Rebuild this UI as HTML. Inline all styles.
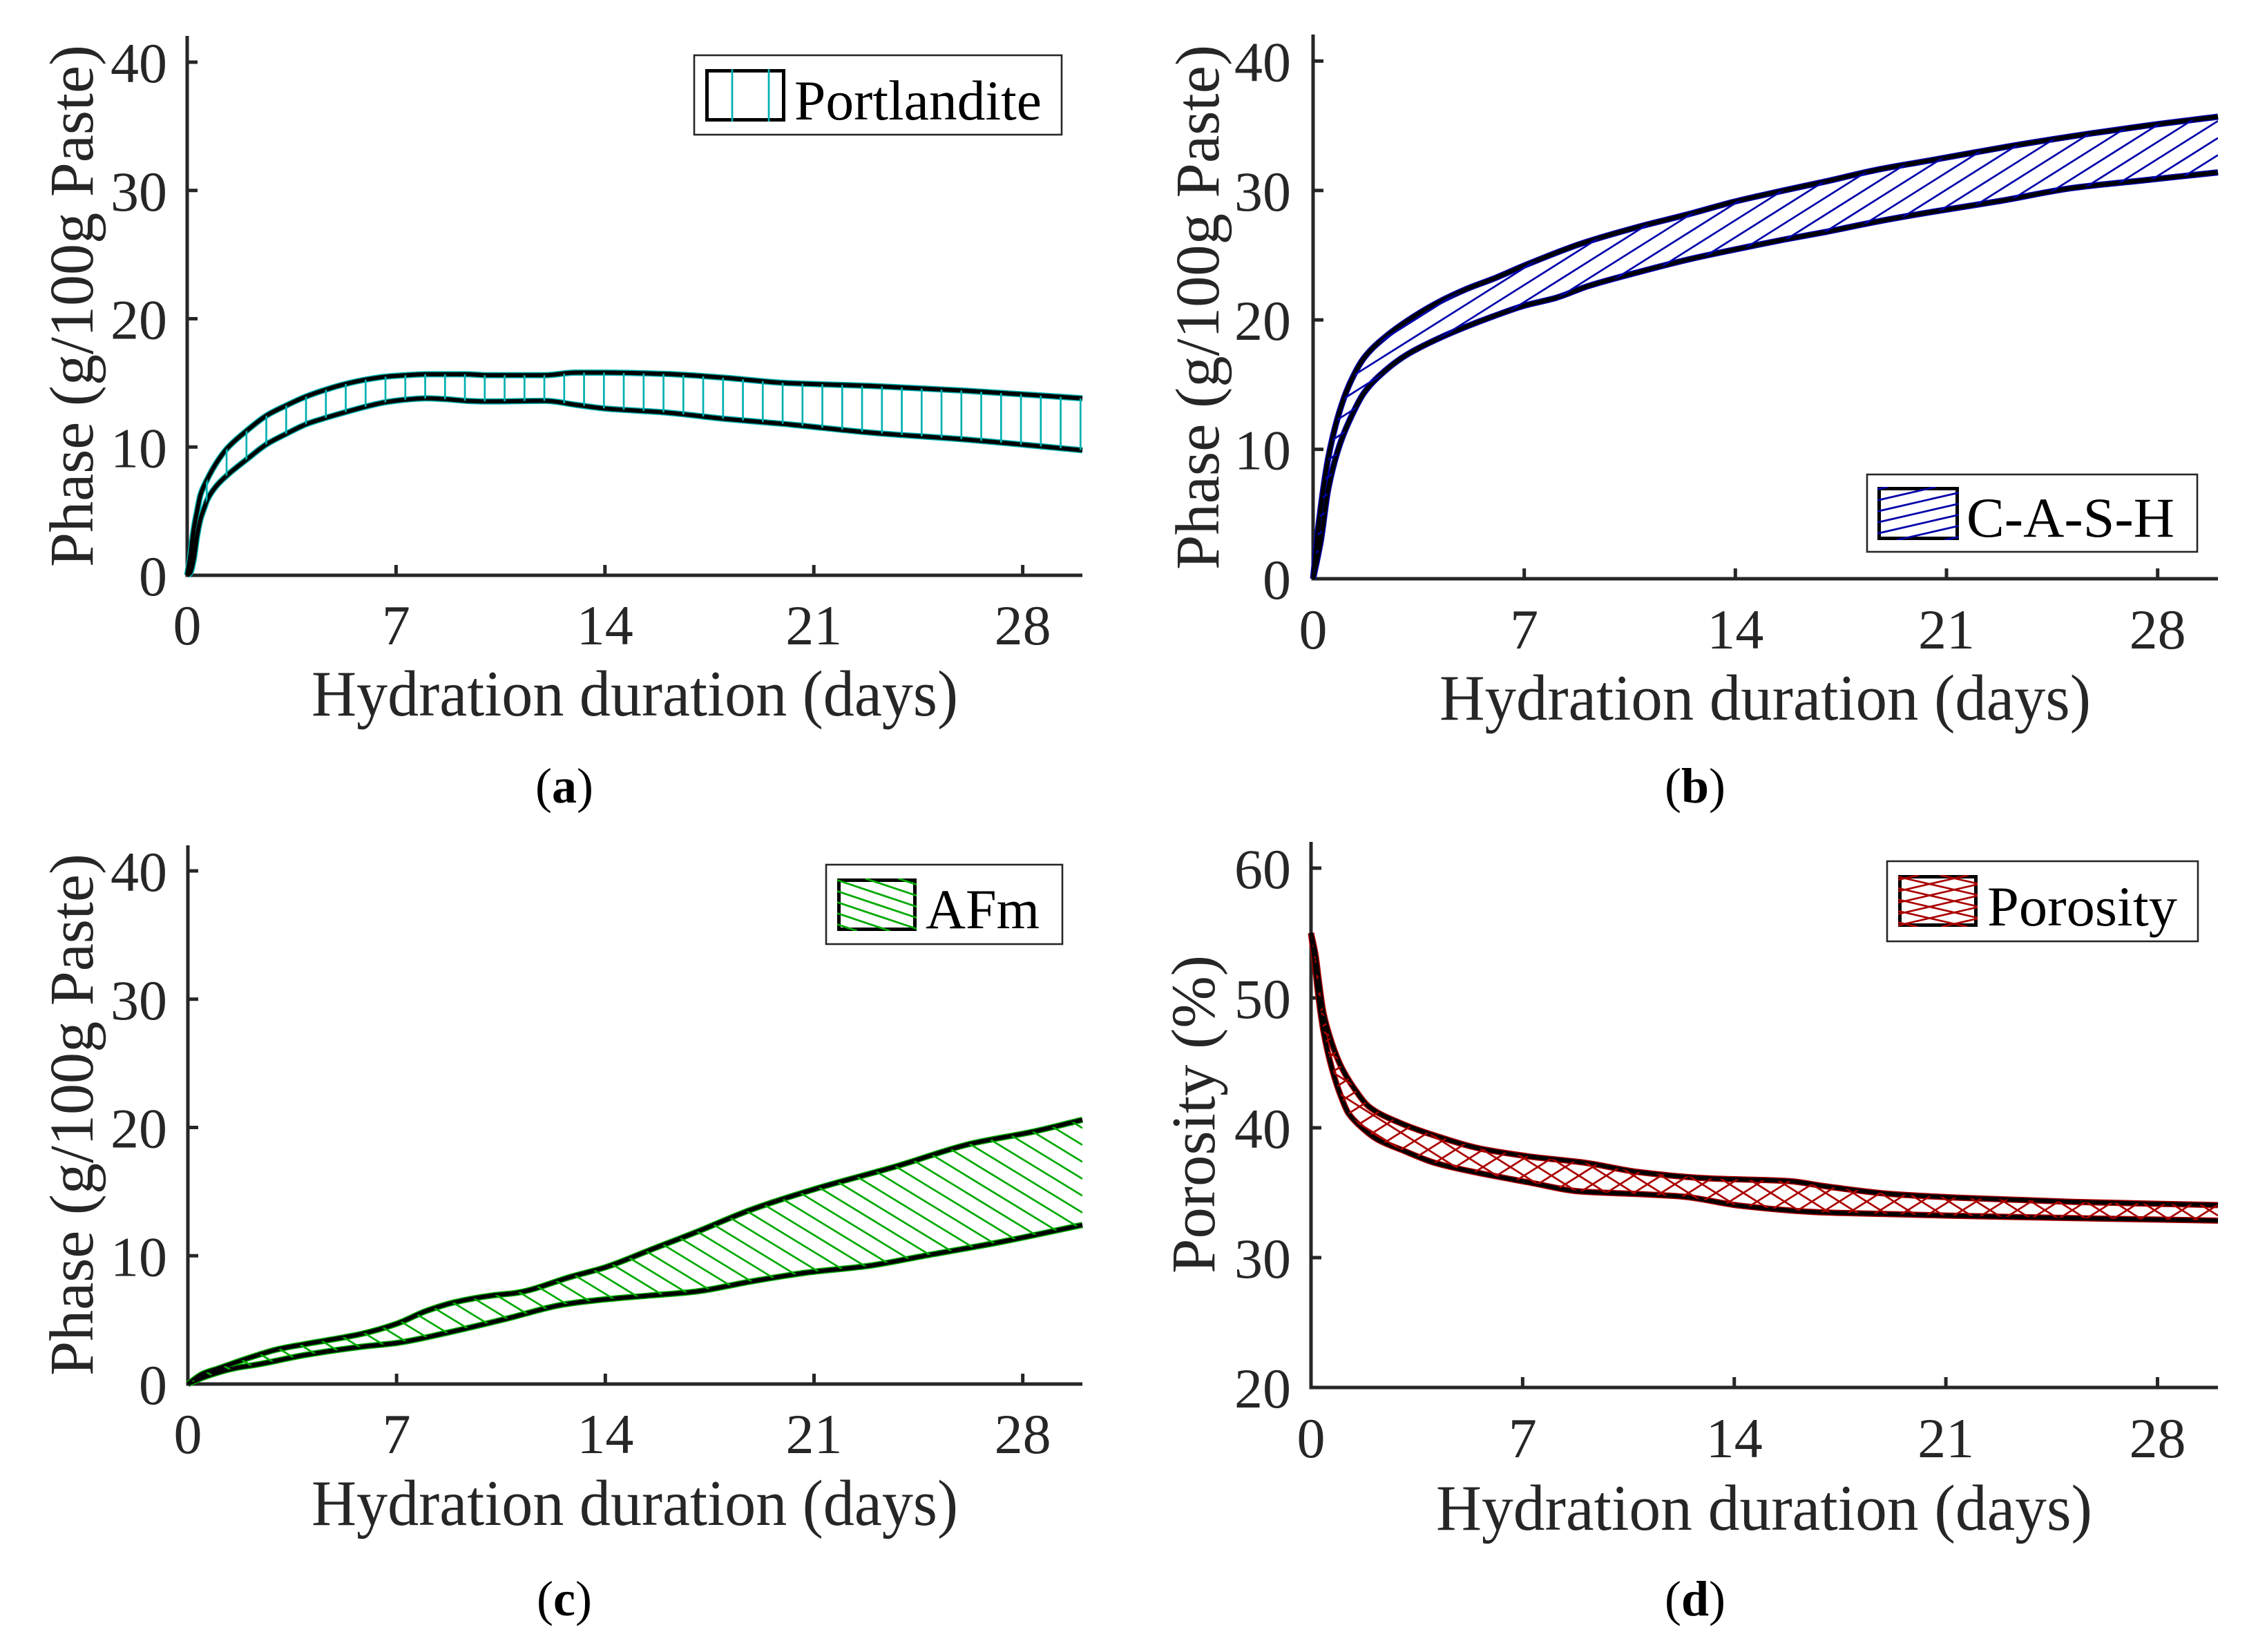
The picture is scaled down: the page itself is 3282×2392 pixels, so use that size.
<!DOCTYPE html>
<html lang="en">
<head>
<meta charset="utf-8">
<title>Hydration phase evolution charts</title>
<style>
html,body{margin:0;padding:0;background:#fff;width:3282px;height:2392px;overflow:hidden;}
svg{display:block;}
text{font-family:"Liberation Serif","Times New Roman",serif;}
.tick-label{font-size:82px;fill:#262626;}
.axis-label{fill:#262626;}
.legend-text{font-size:82px;fill:#000;}
.caption{font-size:72px;fill:#000;text-anchor:middle;}
.caption tspan{font-weight:bold;}
</style>
</head>
<body>
<svg id="figure" xmlns="http://www.w3.org/2000/svg" width="3282" height="2392" viewBox="0 0 3282 2392">
  <rect x="0" y="0" width="3282" height="2392" fill="#fff"/>

  <g id="panel-a"></g>
  <g id="panel-b"></g>
  <g id="panel-c"></g>
  <g id="panel-d"></g>

  <g>
    <text class="axis-label" x="451" y="1036" font-size="94" textLength="936" lengthAdjust="spacingAndGlyphs">Hydration duration (days)</text>
    <text class="axis-label" x="2084" y="1042" font-size="94" textLength="943" lengthAdjust="spacingAndGlyphs">Hydration duration (days)</text>
    <text class="axis-label" x="451" y="2208" font-size="94" textLength="936" lengthAdjust="spacingAndGlyphs">Hydration duration (days)</text>
    <text class="axis-label" x="2079" y="2215" font-size="94" textLength="950" lengthAdjust="spacingAndGlyphs">Hydration duration (days)</text>
    <text class="axis-label" transform="translate(134 821) rotate(-90)" font-size="90" textLength="756" lengthAdjust="spacingAndGlyphs">Phase (g/100g Paste)</text>
    <text class="axis-label" transform="translate(1764 825) rotate(-90)" font-size="90" textLength="760" lengthAdjust="spacingAndGlyphs">Phase (g/100g Paste)</text>
    <text class="axis-label" transform="translate(134 1992) rotate(-90)" font-size="90" textLength="756" lengthAdjust="spacingAndGlyphs">Phase (g/100g Paste)</text>
    <text class="axis-label" transform="translate(1758 1844) rotate(-90)" font-size="90" textLength="461" lengthAdjust="spacingAndGlyphs">Porosity (%)</text>
  </g>

  <g>
    <rect x="1005" y="80" width="532" height="115" fill="#fff" stroke="#262626" stroke-width="2.6"/>
    <g id="swatch-a"></g>
    <text class="legend-text" x="1150" y="173" textLength="358" lengthAdjust="spacingAndGlyphs">Portlandite</text>
  </g>
  <g>
    <rect x="2703" y="687" width="478" height="112" fill="#fff" stroke="#262626" stroke-width="2.6"/>
    <g id="swatch-b"></g>
    <text class="legend-text" x="2847" y="777" textLength="301" lengthAdjust="spacingAndGlyphs">C-A-S-H</text>
  </g>
  <g>
    <rect x="1196" y="1252" width="342" height="115" fill="#fff" stroke="#262626" stroke-width="2.6"/>
    <g id="swatch-c"></g>
    <text class="legend-text" x="1340" y="1344" textLength="165" lengthAdjust="spacingAndGlyphs">AFm</text>
  </g>
  <g>
    <rect x="2732" y="1247" width="450" height="116" fill="#fff" stroke="#262626" stroke-width="2.6"/>
    <g id="swatch-d"></g>
    <text class="legend-text" x="2877" y="1340" textLength="275" lengthAdjust="spacingAndGlyphs">Porosity</text>
  </g>

  <text class="caption" x="817" y="1162">(<tspan>a</tspan>)</text>
  <text class="caption" x="2454" y="1162">(<tspan>b</tspan>)</text>
  <text class="caption" x="817" y="2339">(<tspan>c</tspan>)</text>
  <text class="caption" x="2454" y="2339">(<tspan>d</tspan>)</text>
</svg>

<script>
// ---------- chart data ----------
const xTickValues = [0, 7, 14, 21, 28];
const phaseTickValues = [0, 10, 20, 30, 40];
const porosityTickValues = [20, 30, 40, 50, 60];

const portlanditeUpperDays = [0, 0.1, 0.22, 0.33, 0.45, 0.665, 0.99, 1.34, 2.01, 2.67, 3.33, 4.01, 4.68, 5.33, 6, 6.67, 7.35, 8, 9.34, 10, 12, 13, 14, 16, 18, 20, 23, 26, 30];
const portlanditeUpper = [0, 1.44, 3.6, 5, 6.3, 7.45, 8.8, 9.9, 11.3, 12.47, 13.25, 13.96, 14.5, 14.93, 15.26, 15.49, 15.6, 15.67, 15.67, 15.6, 15.6, 15.8, 15.8, 15.7, 15.4, 15, 14.75, 14.4, 13.8];
const portlanditeLowerDays = [0, 0.1, 0.22, 0.33, 0.45, 0.565, 0.68, 0.99, 1.34, 2.01, 2.67, 3.33, 4.01, 4.68, 5.33, 6, 6.67, 7.35, 8, 8.67, 9.34, 10, 12, 13, 14, 16, 18, 20, 23, 26, 30];
const portlanditeLower = [0, 0.18, 1.26, 3.05, 4.4, 5.2, 5.92, 7, 7.8, 9.06, 10.23, 11.04, 11.8, 12.3, 12.74, 13.16, 13.5, 13.7, 13.8, 13.73, 13.6, 13.55, 13.6, 13.3, 13, 12.7, 12.2, 11.8, 11.1, 10.6, 9.75];

const cashUpperDays = [0, 0.2, 0.5, 0.86, 1.2, 1.7, 2.4, 3.1, 4.1, 5.1, 6, 7, 8.9, 10.8, 12.5, 13.9, 15.6, 17, 18.7, 20.4, 22.8, 25.2, 27.6, 30];
const cashUpper = [0, 4.5, 9.3, 12.8, 15, 17.1, 18.7, 19.9, 21.3, 22.4, 23.2, 24.2, 25.9, 27.2, 28.2, 29.1, 30, 30.7, 31.6, 32.3, 33.3, 34.2, 35, 35.7];
const cashLowerDays = [0, 0.26, 0.5, 0.86, 1.2, 1.7, 2.4, 3.1, 4.1, 5.1, 6, 7, 8.05, 9.1, 10.8, 12.5, 13.9, 15.6, 17, 18.7, 20.4, 22.8, 25.2, 27.6, 30];
const cashLower = [0, 3, 6.9, 10.2, 12.2, 14.4, 16.1, 17.3, 18.5, 19.5, 20.3, 21.1, 21.7, 22.6, 23.7, 24.7, 25.4, 26.2, 26.8, 27.6, 28.3, 29.2, 30.2, 30.8, 31.4];

const afmUpperDays = [0, 0.5, 1, 2, 3, 3.9, 5.8, 7, 8, 8.9, 10.2, 11, 12.9, 14, 15.5, 17, 18.9, 21.1, 23.8, 26.2, 28.4, 30];
const afmUpper = [0, 0.8, 1.2, 2, 2.7, 3.1, 3.9, 4.7, 5.7, 6.35, 6.9, 7.1, 8.4, 9.1, 10.45, 11.8, 13.6, 15.25, 17, 18.7, 19.7, 20.6];
const afmLowerDays = [0, 0.5, 1.5, 2.4, 3.9, 5.8, 7, 8.7, 10.7, 12.6, 14, 15.5, 17, 18.9, 20.8, 22.8, 24.7, 27.1, 30];
const afmLower = [0, 0.5, 1.2, 1.55, 2.25, 2.9, 3.2, 4, 5.1, 6.2, 6.6, 6.9, 7.2, 8, 8.7, 9.2, 10, 11, 12.4];

const porosityUpperDays = [0, 0.15, 0.26, 0.4, 0.61, 0.98, 1.44, 1.93, 2.92, 4.1, 5.6, 7.2, 9.1, 10.8, 13.2, 15.8, 17, 19.2, 21.6, 25.2, 30];
const porosityUpper = [55, 53.3, 51.3, 49, 47.1, 44.8, 43, 41.6, 40.4, 39.4, 38.4, 37.8, 37.3, 36.6, 36.1, 35.9, 35.5, 34.9, 34.6, 34.3, 34.05];
const porosityLowerDays = [0, 0.14, 0.21, 0.4, 0.63, 0.93, 1.23, 1.55, 2.2, 3, 4.1, 5.6, 7.2, 8.9, 10.8, 12.3, 14.2, 16.8, 19.2, 22.8, 26.3, 30];
const porosityLower = [55, 52.4, 50.8, 47.6, 45.1, 42.8, 41.15, 40.3, 39.1, 38.3, 37.3, 36.5, 35.8, 35.1, 34.9, 34.7, 34, 33.5, 33.35, 33.15, 33, 32.85];

// ---------- drawing ----------
const SVG_NS = 'http://www.w3.org/2000/svg';
const AXIS_COLOR = '#262626';
const HATCH_WIDTH = 2.7;

function make(tag, attrs, parent) {
  const el = document.createElementNS(SVG_NS, tag);
  for (const k in attrs) el.setAttribute(k, attrs[k]);
  parent.appendChild(el);
  return el;
}

// Monotone cubic path through points with increasing x.
function smoothPath(pts) {
  const n = pts.length;
  const h = [], s = [], m = new Array(n).fill(0);
  for (let i = 0; i < n - 1; i++) {
    h.push(Math.max(pts[i + 1][0] - pts[i][0], 0.001));
    s.push((pts[i + 1][1] - pts[i][1]) / h[i]);
  }
  m[0] = s[0];
  m[n - 1] = s[n - 2];
  for (let i = 1; i < n - 1; i++) {
    if (s[i - 1] * s[i] > 0) {
      const w1 = 2 * h[i] + h[i - 1], w2 = h[i] + 2 * h[i - 1];
      m[i] = (w1 + w2) / (w1 / s[i - 1] + w2 / s[i]);
    }
  }
  let d = 'M' + pts[0][0].toFixed(1) + ' ' + pts[0][1].toFixed(1);
  for (let i = 0; i < n - 1; i++) {
    d += ' C' + (pts[i][0] + h[i] / 3).toFixed(1) + ' ' + (pts[i][1] + m[i] * h[i] / 3).toFixed(1) +
         ' ' + (pts[i + 1][0] - h[i] / 3).toFixed(1) + ' ' + (pts[i + 1][1] - m[i + 1] * h[i] / 3).toFixed(1) +
         ' ' + pts[i + 1][0].toFixed(1) + ' ' + pts[i + 1][1].toFixed(1);
  }
  return d;
}

function hatchFamily(parent, clipId, color, x1, x2, y1, y2, slope, anchorX, anchorY, spacing, width) {
  // Lines of the form y = anchorY + slope*(x-anchorX) + k*spacing, trimmed to a box and clipped to a region.
  const g = make('g', { 'clip-path': 'url(#' + clipId + ')' }, parent);
  
  
  const w = x2 - x1;
  const base = anchorY + slope * (x1 - anchorX);
  const lowY = Math.min(y1, y1 - slope * w);
  const highY = Math.max(y2, y2 - slope * w);
  const kStart = Math.floor((lowY - base) / spacing) - 1;
  const kEnd = Math.ceil((highY - base) / spacing) + 1;
  for (let k = kStart; k <= kEnd; k++) {
    const a = base + k * spacing;
    const ta = (y1 - a) / slope, tb = (y2 - a) / slope;
    const t0 = Math.max(0, Math.min(ta, tb));
    const t1 = Math.min(w, Math.max(ta, tb));
    if (t0 >= t1) continue;
    const line = make('line', {
      x1: x1 + t0, y1: a + slope * t0, x2: x1 + t1, y2: a + slope * t1,
      stroke: color, 'stroke-width': width
    }, g);
    
    
  }
}

function verticalHatch(parent, clipId, color, startX, endX, y1, y2, spacing, width) {
  const g = make('g', { 'clip-path': 'url(#' + clipId + ')' }, parent);
  
  
  for (let x = startX; x <= endX + 1; x += spacing) {
    const line = make('line', { x1: x, y1: y1, x2: x, y2: y2, stroke: color, 'stroke-width': width }, g);
    
    
  }
}

function drawPanel(cfg) {
  const root = document.getElementById(cfg.id);
  const sx = d => cfg.x0 + (d / 30) * (cfg.x1 - cfg.x0);
  const sy = v => cfg.yLow + (v - cfg.vLow) * (cfg.yHigh - cfg.yLow) / (cfg.vHigh - cfg.vLow);

  // axes
  const yAxis = make('line', { x1: cfg.x0, y1: cfg.yTop, x2: cfg.x0, y2: cfg.yLow + 2.5, stroke: AXIS_COLOR, 'stroke-width': 5 }, root);
  
  
  const xAxis = make('line', { x1: cfg.x0, y1: cfg.yLow, x2: cfg.x1, y2: cfg.yLow, stroke: AXIS_COLOR, 'stroke-width': 5 }, root);
  
  

  xTickValues.forEach(t => {
    const tick = make('line', { x1: sx(t), y1: cfg.yLow, x2: sx(t), y2: cfg.yLow - 15, stroke: AXIS_COLOR, 'stroke-width': 5 }, root);
    
    
    const label = make('text', { x: sx(t), y: cfg.xTickBase, 'text-anchor': 'middle', class: 'tick-label' }, root);
    
    
    label.textContent = t;
  });
  cfg.yTicks.forEach(t => {
    const tick = make('line', { x1: cfg.x0, y1: sy(t), x2: cfg.x0 + 15, y2: sy(t), stroke: AXIS_COLOR, 'stroke-width': 5 }, root);
    
    
    const label = make('text', { x: cfg.yTickRight, y: sy(t) + 29, 'text-anchor': 'end', class: 'tick-label' }, root);
    
    
    label.textContent = t;
  });

  // band outline and hatch
  const upperPts = cfg.upperDays.map((d, i) => [sx(d), sy(cfg.upper[i])]);
  const lowerPts = cfg.lowerDays.map((d, i) => [sx(d), sy(cfg.lower[i])]);
  const defs = make('defs', {}, root);
  const clip = make('clipPath', { id: cfg.id + '-clip' }, defs);
  const ring = upperPts.concat(lowerPts.slice().reverse()).map(p => p[0].toFixed(1) + ',' + p[1].toFixed(1)).join(' ');
  make('polygon', { points: ring }, clip);

  const upperPath = smoothPath(upperPts);
  const lowerPath = smoothPath(lowerPts);
  [[upperPath, 'upper'], [lowerPath, 'lower']].forEach(pair => {
    const halo = make('path', { d: pair[0], fill: 'none', stroke: cfg.color, 'stroke-width': 9, 'stroke-linejoin': 'round' }, root);
    
    
  });
  [[upperPath, 'upper'], [lowerPath, 'lower']].forEach(pair => {
    const line = make('path', { d: pair[0], fill: 'none', stroke: '#000', 'stroke-width': 6, 'stroke-linejoin': 'round' }, root);
    
    
  });
  cfg.hatch(root, cfg.id + '-clip', cfg);
}

const panels = [
  {
    id: 'panel-a', x0: 271, x1: 1567, yLow: 833, yHigh: 90, vLow: 0, vHigh: 40, yTop: 52,
    xTickBase: 933, yTickRight: 242, yTicks: phaseTickValues, color: '#00b0b0',
    upperDays: portlanditeUpperDays, upper: portlanditeUpper, lowerDays: portlanditeLowerDays, lower: portlanditeLower,
    hatch: (root, clip, c) => verticalHatch(root, clip, c.color, 299.3, c.x1, 250, 840, 28.75, HATCH_WIDTH)
  },
  {
    id: 'panel-b', x0: 1901, x1: 3211, yLow: 838, yHigh: 88.4, vLow: 0, vHigh: 40, yTop: 50,
    xTickBase: 939, yTickRight: 1869, yTicks: phaseTickValues, color: '#0000aa',
    upperDays: cashUpperDays, upper: cashUpper, lowerDays: cashLowerDays, lower: cashLower,
    hatch: (root, clip, c) => hatchFamily(root, clip, c.color, c.x0, c.x1, 50, 840, -0.63, 3208, 177, 24.7, HATCH_WIDTH)
  },
  {
    id: 'panel-c', x0: 272, x1: 1567, yLow: 2004, yHigh: 1261, vLow: 0, vHigh: 40, yTop: 1224,
    xTickBase: 2104, yTickRight: 242, yTicks: phaseTickValues, color: '#00aa00',
    upperDays: afmUpperDays, upper: afmUpper, lowerDays: afmLowerDays, lower: afmLower,
    hatch: (root, clip, c) => hatchFamily(root, clip, c.color, c.x0, c.x1, 1220, 2010, 0.61, 1555, 1773, 24.5, HATCH_WIDTH)
  },
  {
    id: 'panel-d', x0: 1898, x1: 3211, yLow: 2009, yHigh: 1257, vLow: 20, vHigh: 60, yTop: 1219,
    xTickBase: 2110, yTickRight: 1869, yTicks: porosityTickValues, color: '#aa0000',
    upperDays: porosityUpperDays, upper: porosityUpper, lowerDays: porosityLowerDays, lower: porosityLower,
    hatch: (root, clip, c) => {
      hatchFamily(root, clip, c.color, c.x0, c.x1, 1220, 2010, -0.63, 2083, 1680, 25, HATCH_WIDTH);
      hatchFamily(root, clip, c.color, c.x0, c.x1, 1220, 2010, 0.63, 2087, 1652, 25, HATCH_WIDTH);
    }
  }
];
panels.forEach(drawPanel);

// ---------- legend swatches ----------
function drawSwatch(id, x, y, w, h, painter) {
  const g = document.getElementById(id);
  const defs = make('defs', {}, g);
  const clip = make('clipPath', { id: id + '-clip' }, defs);
  make('rect', { x: x, y: y, width: w, height: h }, clip);
  const frame = make('rect', { x: x + 2.5, y: y + 2.5, width: w - 5, height: h - 5, fill: '#fff', stroke: '#000', 'stroke-width': 5 }, g);
  
  
  painter(g, id + '-clip');
}
drawSwatch('swatch-a', 1021, 100, 116, 76, (g, clip) => verticalHatch(g, clip, '#00b0b0', 1060, 1113, 100, 176, 53, HATCH_WIDTH));
drawSwatch('swatch-b', 2718, 705, 118, 77, (g, clip) => hatchFamily(g, clip, '#0000aa', 2718, 2836, 705, 782, -0.23, 2720, 740, 16, 2.8));
drawSwatch('swatch-c', 1212, 1272, 115, 76, (g, clip) => hatchFamily(g, clip, '#00aa00', 1212, 1327, 1272, 1348, 0.335, 1214, 1275, 16, 2.8));
drawSwatch('swatch-d', 2748, 1267, 115, 75, (g, clip) => {
  hatchFamily(g, clip, '#aa0000', 2748, 2863, 1267, 1342, -0.23, 2750, 1290, 16.5, 2.7);
  hatchFamily(g, clip, '#aa0000', 2748, 2863, 1267, 1342, 0.23, 2750, 1270, 16.5, 2.7);
});
</script>
</body>
</html>
